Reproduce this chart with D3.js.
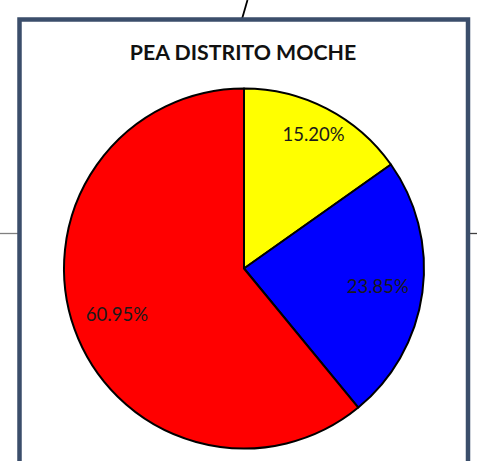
<!DOCTYPE html>
<html><head><meta charset="utf-8">
<script src="https://cdn.jsdelivr.net/npm/d3@7/dist/d3.min.js"></script>
<style>html,body{margin:0;padding:0;background:#fff;overflow:hidden}</style>
</head><body>
<svg id="c" width="477" height="461"></svg>
<script>
const title = "PEA DISTRITO MOCHE";
const categories = ["A", "B", "C"];
const values = [15.20, 23.85, 60.95];
const colors = ["#ffff00", "#0000ff", "#ff0000"];
const labels = ["15.20%", "23.85%", "60.95%"];

const svg = d3.select("#c");
const cx = 244, cy = 268.5, r = 180;

// background connector lines
svg.append("line").attr("x1", 0).attr("x2", 19).attr("y1", 233.5).attr("y2", 233.5)
  .attr("stroke", "#808080").attr("stroke-width", 1.3);
svg.append("line").attr("x1", 468).attr("x2", 477).attr("y1", 233.5).attr("y2", 233.5)
  .attr("stroke", "#404040").attr("stroke-width", 1.3);
svg.append("line").attr("x1", 247.5).attr("x2", 242).attr("y1", 0).attr("y2", 19)
  .attr("stroke", "#000").attr("stroke-width", 1.8);

// chart frame
svg.append("rect").attr("x", 19.5).attr("y", 19.5).attr("width", 448.5).attr("height", 470)
  .attr("fill", "#fff").attr("stroke", "#3b4e6b").attr("stroke-width", 4.5);

svg.append("text").attr("x", 243).attr("y", 59.5).attr("text-anchor", "middle")
  .attr("font-family", "Lato, 'Open Sans', sans-serif").attr("font-weight", "bold")
  .attr("font-size", 21.3).attr("fill", "#111").text(title);

const pie = d3.pie().sort(null).value(d => d)(values);
const arc = d3.arc().innerRadius(0).outerRadius(r);
const g = svg.append("g").attr("transform", `translate(${cx},${cy})`);
g.selectAll("path").data(pie).join("path")
  .attr("d", arc).attr("fill", (d, i) => colors[i])
  .attr("stroke", "#000").attr("stroke-width", 2).attr("stroke-linejoin", "round");

const labelFactor = [0.84, 0.75, 0.75];
g.selectAll("text.lab").data(pie).join("text").attr("class", "lab")
  .each(function(d, i) {
    const la = d3.arc().innerRadius(r * labelFactor[i]).outerRadius(r * labelFactor[i]);
    const [x, y] = la.centroid(d);
    d3.select(this).attr("x", x).attr("y", y).attr("dy", "0.35em");
  })
  .attr("text-anchor", "middle")
  .attr("font-family", "Lato, 'Open Sans', sans-serif").attr("font-size", 18.5)
  .attr("fill", "#1a1a1a").text((d, i) => labels[i]);
</script>
</body></html>
